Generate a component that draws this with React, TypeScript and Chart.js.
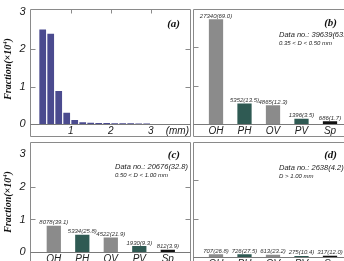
import React, { useEffect, useRef } from 'react';
import { Chart, registerables } from 'chart.js';
Chart.register(...registerables);

// ---- data ----
const sizeBins = [0.3, 0.5, 0.7, 0.9, 1.1, 1.3, 1.5, 1.7, 1.9, 2.1, 2.3, 2.5, 2.7, 2.9];
const sizeFraction = [2.53, 2.41, 0.88, 0.3, 0.11, 0.05, 0.035, 0.03, 0.025, 0.022, 0.02, 0.018, 0.015, 0.012];
const types = ['OH', 'PH', 'OV', 'PV', 'Sp'];
const countsB = [27340, 5352, 4865, 1396, 686];
const pctB = [69.0, 13.5, 12.3, 3.5, 1.7];
const countsC = [8078, 5334, 4522, 1930, 812];
const pctC = [39.1, 25.8, 21.9, 9.3, 3.9];
const countsD = [707, 726, 613, 275, 317];
const pctD = [26.8, 27.5, 23.2, 10.4, 12.0];
const yTicks = [0, 1, 2, 3];
const xTicksMm = [1, 2, 3];
const typeColors = ['#8b8b8b', '#2f5a53', '#8b8b8b', '#2f5a53', '#111111'];

const SANS = '"Liberation Sans", Arial, sans-serif';
const SERIF = '"Liberation Serif", "Times New Roman", serif';

type Spec = {
  kind: 'hist' | 'type';
  left: number; top: number; w: number;
  showY: boolean; yW: number; padL: number; padR: number;
  boxL: number; boxR: number;
  tag: string; tagX: number; tagY: number;
  dataText?: string; subText?: string; textX?: number; textY?: number;
  counts?: number[]; pcts?: number[];
  topTicks?: boolean;
};

const specs: Spec[] = [
  { kind: 'hist', left: 0, top: 0, w: 192, showY: true, yW: 30.7, padL: 0, padR: 1.3, boxL: 30.5, boxR: 190.5,
    tag: '(a)', tagX: 180, tagY: 24, topTicks: true },
  { kind: 'type', left: 192, top: 0, w: 170, showY: false, yW: 0, padL: 9.75, padR: 17.75, boxL: 1.5, boxR: 162,
    tag: '(b)', tagX: 145, tagY: 23, dataText: 'Data no.: 39639(63.0)', subText: '0.35 < D < 0.50 mm', textX: 87, textY: 35,
    counts: countsB, pcts: pctB },
  { kind: 'type', left: 0, top: 133, w: 192, showY: true, yW: 39.55, padL: 0, padR: 9.95, boxL: 30.5, boxR: 190.5,
    tag: '(c)', tagX: 180, tagY: 22, dataText: 'Data no.: 20676(32.8)', subText: '0.50 < D < 1.00 mm', textX: 115, textY: 34,
    counts: countsC, pcts: pctC },
  { kind: 'type', left: 192, top: 133, w: 170, showY: false, yW: 0, padL: 9.75, padR: 17.75, boxL: 1.5, boxR: 162,
    tag: '(d)', tagX: 145, tagY: 22, dataText: 'Data no.: 2638(4.2)', subText: 'D > 1.00 mm', textX: 87, textY: 35,
    counts: countsD, pcts: pctD },
];

function makeChart(canvas: HTMLCanvasElement, s: Spec) {
  const isHist = s.kind === 'hist';
  const data: any = isHist
    ? { datasets: [{ data: sizeBins.map((x, i) => ({ x, y: sizeFraction[i] })), backgroundColor: '#4b4b8f',
        barPercentage: 0.84, categoryPercentage: 1 }] }
    : { labels: types, datasets: [{ data: (s.counts || []).map(c => c / 1e4), backgroundColor: typeColors,
        barPercentage: 0.5, categoryPercentage: 1 }] };

  const xCommon = {
    afterFit: (sc: any) => { sc.height = 16; },
    ticks: { padding: 1, autoSkip: false, maxRotation: 0, color: '#222', font: { family: SANS, size: 10, style: 'italic' } },
    grid: { display: false, drawTicks: false }, border: { display: false },
  };
  const xScale: any = isHist
    ? { type: 'linear', min: 0, max: 4, offset: false,
        afterBuildTicks: (sc: any) => { sc.ticks = xTicksMm.map(v => ({ value: v })); },
        ...xCommon }
    : { type: 'category', offset: true, ...xCommon };

  const deco = {
    id: 'deco',
    afterDatasetsDraw(chart: any) {
      const ctx = chart.ctx as CanvasRenderingContext2D;
      const y = chart.scales.y;
      const x = chart.scales.x;
      const top = 9.5, bottom = 136.5;
      ctx.save();
      ctx.strokeStyle = '#8a8a8a';
      ctx.lineWidth = 1;
      ctx.beginPath();
      ctx.rect(s.boxL, top, s.boxR - s.boxL, bottom - top);
      ctx.stroke();
      // zero axis line
      const y0 = Math.round(y.getPixelForValue(0)) + 0.5;
      ctx.strokeStyle = '#7a7a7a';
      ctx.beginPath();
      ctx.moveTo(s.boxL, y0); ctx.lineTo(s.boxR, y0);
      ctx.stroke();
      // y ticks inside box
      ctx.strokeStyle = '#8a8a8a';
      ctx.beginPath();
      [1, 2].forEach(v => {
        const py = Math.round(y.getPixelForValue(v)) + 0.5;
        ctx.moveTo(s.boxL, py); ctx.lineTo(s.boxL + 5, py);
        ctx.moveTo(s.boxR, py); ctx.lineTo(s.boxR - 5, py);
      });
      if (s.topTicks) {
        xTicksMm.forEach(v => {
          const px = Math.round(x.getPixelForValue(v)) + 0.5;
          ctx.moveTo(px, top); ctx.lineTo(px, top + 4);
        });
      }
      ctx.stroke();

      // tag
      ctx.fillStyle = '#111';
      ctx.font = `italic bold 11px ${SERIF}`;
      ctx.textAlign = 'right';
      ctx.textBaseline = 'middle';
      ctx.fillText(s.tag, s.tagX, s.tagY);

      if (isHist) {
        ctx.font = `italic 10px ${SANS}`;
        ctx.fillStyle = '#222';
        ctx.textAlign = 'right';
        ctx.fillText('(mm)', 189, 131);
      }

      if (s.dataText) {
        ctx.textAlign = 'left';
        ctx.fillStyle = '#222';
        ctx.font = `italic 7.5px ${SANS}`;
        ctx.fillText(s.dataText, s.textX!, s.textY!);
        ctx.font = `italic 6px ${SANS}`;
        ctx.fillText(s.subText!, s.textX!, s.textY! + 8);
      }

      // value labels
      if (!isHist && s.counts) {
        const meta = chart.getDatasetMeta(0);
        ctx.font = `italic 6px ${SANS}`;
        ctx.fillStyle = '#333';
        ctx.textAlign = 'center';
        ctx.textBaseline = 'alphabetic';
        meta.data.forEach((bar: any, i: number) => {
          ctx.fillText(`${s.counts![i]}(${s.pcts![i].toFixed(1)})`, bar.x, bar.y - 1.5);
        });
      }

      // y title
      if (s.showY) {
        ctx.translate(8, 69);
        ctx.rotate(-Math.PI / 2);
        ctx.fillStyle = '#111';
        ctx.textBaseline = 'middle';
        ctx.textAlign = 'left';
        const f1 = `italic bold 10px ${SERIF}`;
        const f2 = `italic bold 6.5px ${SERIF}`;
        ctx.font = f1;
        const a = 'Fraction(\u00d710';
        const wa = ctx.measureText(a).width;
        const wc = ctx.measureText(')').width;
        ctx.font = f2;
        const wb = ctx.measureText('4').width;
        let px = -(wa + wb + wc) / 2;
        ctx.font = f1;
        ctx.fillText(a, px, 0);
        px += wa;
        ctx.font = f2;
        ctx.fillText('4', px, -3);
        px += wb;
        ctx.font = f1;
        ctx.fillText(')', px, 0);
      }
      ctx.restore();
    },
  };

  return new Chart(canvas, {
    type: 'bar',
    data,
    options: {
      animation: false,
      responsive: false,
      devicePixelRatio: 1,
      layout: { padding: { left: s.padL, right: s.padR, top: 9, bottom: 0 } },
      plugins: { legend: { display: false }, tooltip: { enabled: false } },
      scales: {
        x: xScale,
        y: {
          min: 0, max: 3, display: s.showY, position: 'left',
          afterBuildTicks: (sc: any) => { sc.ticks = yTicks.map(v => ({ value: v })); },
          afterFit: (sc: any) => { sc.width = s.yW; },
          ticks: { padding: s.yW - 25.5, color: '#222', font: { family: SANS, size: 11, style: 'italic' } },
          grid: { display: false, drawTicks: false }, border: { display: false },
        },
      },
    } as any,
    plugins: [deco],
  });
}

function Panel({ spec }: { spec: Spec }) {
  const ref = useRef<HTMLCanvasElement>(null);
  useEffect(() => {
    const c = makeChart(ref.current!, spec);
    return () => c.destroy();
  }, []);
  return (
    <canvas ref={ref} width={spec.w} height={140}
      style={{ position: 'absolute', left: spec.left, top: spec.top, width: spec.w, height: 140 }} />
  );
}

export default function App() {
  return (
    <div style={{ position: 'absolute', left: 0, top: 0, width: 344, height: 261, overflow: 'hidden', background: '#fff' }}>
      {specs.map((s, i) => <Panel key={i} spec={s} />)}
    </div>
  );
}
